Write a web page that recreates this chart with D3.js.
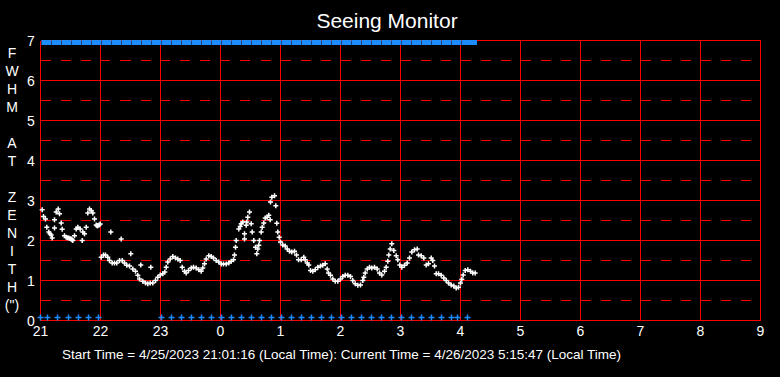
<!DOCTYPE html>
<html>
<head>
<meta charset="utf-8">
<script src="https://d3js.org/d3.v7.min.js"></script>
<style>
    body { margin: 0; background: #000; }
    text { font-family: "Liberation Sans", Arial, sans-serif; fill: #fff; }
</style>
</head>
<body>
<div id="my_dataviz"></div>
<script>
var seeingMin = [1.7, 3, 5, 6.3, 8.3, 9.5, 10.7, 11.7, 14, 14, 15.7, 17.7, 19, 20.7, 21.7, 24, 25.7, 27, 28.3, 29.5, 30.7, 31.5, 32.3, 34, 35.7, 37.3, 39.7, 41.7, 42.3, 44, 45.7, 47.3, 49, 50.7, 52.3, 54, 55.7, 56.5, 57.3, 58.5, 59.7, 70.3, 80.7,
    60.7, 63, 65, 67.3, 69, 71.7, 74, 76.3, 79, 81.7, 84, 86.3, 89, 90.3, 92.3, 95, 97.3, 99, 100.3, 102.3, 105, 107.3, 109.7, 110.3, 112.3, 115, 117.3, 119.7,
    122.3, 124.3, 125.7, 127.3, 129.7, 132.3, 135, 137.3, 139.7, 141.7, 144, 145.7, 148, 150.7, 153, 155.7, 158.3, 160.7, 162.3, 164, 165.7, 168.3, 170.7, 173, 175.7, 178.3,
    180.7, 183, 185.7, 188.3, 190.7, 193, 194, 195, 195.7, 198.3, 199.7, 200.7, 202.3, 204, 204, 205.7, 206.3, 207.3, 209, 210.7, 211.7, 213.3, 215, 216.3, 217.3, 218.3, 219, 220.7, 221.7, 223.3, 224.7, 226.7, 228.3, 229.7,
    230, 231.3, 234, 235.3, 236.3, 237.3, 238.7, 240, 242.3, 244.7, 246.7, 249, 251.3, 254, 256, 258, 260.7, 263.3, 264.7, 266.7, 268.3, 270, 272.3, 274.7, 277.3,
    280, 282.3, 284.7, 286.7, 288, 290, 292.3, 294.7, 297.3, 300, 302.3, 304.7, 307.3, 310, 312.3, 314.7, 317.3, 320, 322.3, 323.3, 324.7, 326.7, 329, 331.3, 334, 336.7, 339,
    341.3, 344, 345.7, 347.3, 348.3, 349.7, 351.3, 353.3, 355.7, 357.3, 359.3, 361.3, 364, 366.7, 369, 371.3, 374, 376.7, 378, 380.7, 383.3, 385.7, 388, 390.7, 392.3, 394, 395.7, 398,
    400.7, 403.3, 405.7, 408, 410.7, 413.3, 415.7, 418, 420, 421.3, 422.7, 424.7, 427.3, 430, 432.3, 434.7];
var seeingFwhm = [2.77, 2.6, 2.54, 2.33, 2.21, 2.17, 2.14, 2.06, 2.31, 2.52, 2.71, 2.79, 2.67, 2.44, 2.28, 2.12, 2.08, 2.07, 2.06, 2.05, 2.04, 2.02, 2.0, 2.12, 2.29, 2.33, 2.29, 2.0, 2.21, 2.17, 2.33, 2.69, 2.79, 2.75, 2.69, 2.54, 2.39, 2.37, 2.37, 2.39, 2.41, 2.21, 2.04,
    1.58, 1.64, 1.64, 1.58, 1.5, 1.44, 1.44, 1.44, 1.5, 1.5, 1.44, 1.38, 1.36, 1.67, 1.29, 1.23, 1.13, 1.04, 1.39, 0.98, 0.94, 0.92, 0.94, 1.33, 0.94, 1.0, 1.08, 1.14,
    1.17, 1.21, 1.33, 1.46, 1.54, 1.6, 1.56, 1.54, 1.5, 1.33, 1.23, 1.19, 1.25, 1.31, 1.33, 1.31, 1.27, 1.23, 1.31, 1.42, 1.54, 1.62, 1.6, 1.56, 1.5, 1.46,
    1.41, 1.41, 1.41, 1.44, 1.48, 1.52, 1.64, 1.83, 2.0, 2.29, 2.35, 2.42, 2.46, 2.04, 2.17, 2.38, 2.46, 2.58, 2.71, 2.42, 2.21, 2.0, 1.83, 1.67, 1.79, 1.88, 2.0, 2.21, 2.33, 2.44, 2.56, 2.58, 2.63, 2.52,
    2.96, 3.08, 3.12, 2.87, 2.43, 2.21, 2.08, 1.96, 1.89, 1.86, 1.79, 1.73, 1.71, 1.73, 1.64, 1.52, 1.52, 1.58, 1.52, 1.44, 1.39, 1.25, 1.23, 1.27, 1.33,
    1.36, 1.38, 1.42, 1.29, 1.19, 1.13, 1.04, 0.98, 0.98, 1.04, 1.1, 1.13, 1.13, 1.1, 1.0, 0.92, 0.88, 0.89, 1.0, 1.08, 1.19, 1.29, 1.33, 1.31, 1.33, 1.29, 1.19,
    1.14, 1.23, 1.33, 1.48, 1.64, 1.79, 1.92, 1.75, 1.62, 1.52, 1.39, 1.33, 1.38, 1.44, 1.56, 1.71, 1.77, 1.79, 1.64, 1.62, 1.56, 1.39, 1.42, 1.56, 1.5, 1.36, 1.17, 1.17,
    1.13, 1.06, 1.0, 0.94, 0.89, 0.86, 0.81, 0.83, 0.94, 1.03, 1.14, 1.25, 1.27, 1.23, 1.19, 1.19];

// blue markers along the bottom (minutes since 21:00)
var lowMin = [0, 7, 17, 28, 38, 48, 58,
    121, 131, 141, 151, 161, 171, 181, 191, 201, 211, 221, 231, 241, 251, 261, 271, 281, 291, 301,
    311, 321, 331, 341, 351, 361, 371, 381, 391, 401, 411, 417, 427];
// blue markers along the top edge (minutes since 21:00)
var topMin = [0, 10, 20, 30, 40, 50, 60, 70, 80, 90, 100, 110, 120, 130, 140, 150, 160, 170, 180, 190, 200,
    210, 220, 230, 240, 250, 260, 270, 280, 290, 300, 310, 320, 330, 340, 350, 360, 370, 380, 390, 400, 410, 420, 426];

var hourTicks = [0, 1, 2, 3, 4, 5, 6, 7, 8, 9, 10, 11, 12];
var hourLabels = ["21", "22", "23", "0", "1", "2", "3", "4", "5", "6", "7", "8", "9"];
var yTicks = [0, 1, 2, 3, 4, 5, 6, 7];
var yHalf = [0.5, 1.5, 2.5, 3.5, 4.5, 5.5, 6.5];
var yTitle = ["F", "W", "H", "M", "", "A", "T", "", "Z", "E", "N", "I", "T", "H", "(\")"];

var titleText = "Seeing Monitor";
var footText = "Start Time = 4/25/2023 21:01:16 (Local Time): Current Time = 4/26/2023 5:15:47 (Local Time)";

var width = 780
var height = 377

var svg = d3.select("#my_dataviz")
    .append("svg")
    .attr("width", width)
    .attr("height", height)
    .style("background", "#000");

var x = d3.scaleLinear().domain([0, 720]).range([40.5, 760.5]);
var y = d3.scaleLinear().domain([0, 7]).range([320.5, 40.5]);

var red = "#ff0000";
var blue = "#1e8cff";

// grid: solid at whole values, dashed at halves
svg.selectAll(".hgrid")
    .data(yTicks)
    .enter().append("line")
    .attr("x1", x(0)).attr("x2", x(720))
    .attr("y1", d => y(d)).attr("y2", d => y(d))
    .attr("stroke", red)
    .attr("shape-rendering", "crispEdges");

svg.selectAll(".hdash")
    .data(yHalf)
    .enter().append("line")
    .attr("x1", x(0)).attr("x2", x(720))
    .attr("y1", d => y(d)).attr("y2", d => y(d))
    .attr("stroke", red)
    .attr("stroke-dasharray", "10,10")
    .attr("shape-rendering", "crispEdges");

svg.selectAll(".vgrid")
    .data(hourTicks)
    .enter().append("line")
    .attr("x1", d => x(d * 60)).attr("x2", d => x(d * 60))
    .attr("y1", y(0)).attr("y2", y(7))
    .attr("stroke", red)
    .attr("shape-rendering", "crispEdges");

// axis labels
svg.selectAll(".xlab")
    .data(hourTicks)
    .enter().append("text")
    .attr("x", d => x(d * 60))
    .attr("y", 336)
    .attr("text-anchor", "middle")
    .style("font-size", "14px")
    .text((d, i) => hourLabels[i]);

svg.selectAll(".ylab")
    .data(yTicks)
    .enter().append("text")
    .attr("x", 31)
    .attr("y", d => y(d) + 5)
    .attr("text-anchor", "middle")
    .style("font-size", "14px")
    .text(d => d);

svg.selectAll(".ytitle")
    .data(yTitle)
    .enter().append("text")
    .attr("x", 12)
    .attr("y", (d, i) => 58 + i * 18)
    .attr("text-anchor", "middle")
    .style("font-size", "14px")
    .text(d => d);

svg.append("text")
    .attr("x", 387)
    .attr("y", 28)
    .attr("text-anchor", "middle")
    .style("font-size", "21px")
    .text(titleText);

svg.append("text")
    .attr("x", 62)
    .attr("y", 359)
    .attr("textLength", 559)
    .attr("lengthAdjust", "spacingAndGlyphs")
    .style("font-size", "13px")
    .text(footText);

// plus marker
var plus = "M-2.5,0H2.5M0,-2.5V2.5";
var bigPlus = "M-3,0H3M0,-3V3";

svg.selectAll(".top")
    .data(topMin)
    .enter().append("rect")
    .attr("x", d => x(d) + 1)
    .attr("y", y(7) - 0.5)
    .attr("width", 9.5)
    .attr("height", 5)
    .attr("fill", blue);

svg.selectAll(".low")
    .data(lowMin)
    .enter().append("path")
    .attr("transform", d => "translate(" + x(d) + "," + (y(0) - 3) + ")")
    .attr("d", bigPlus)
    .attr("stroke", blue)
    .attr("stroke-width", 1.5);

svg.selectAll(".pt")
    .data(seeingMin)
    .enter().append("path")
    .attr("transform", (d, i) => "translate(" + x(d) + "," + y(seeingFwhm[i]) + ")")
    .attr("d", plus)
    .attr("stroke", "#fff")
    .attr("stroke-width", 1.5);
</script>
</body>
</html>
